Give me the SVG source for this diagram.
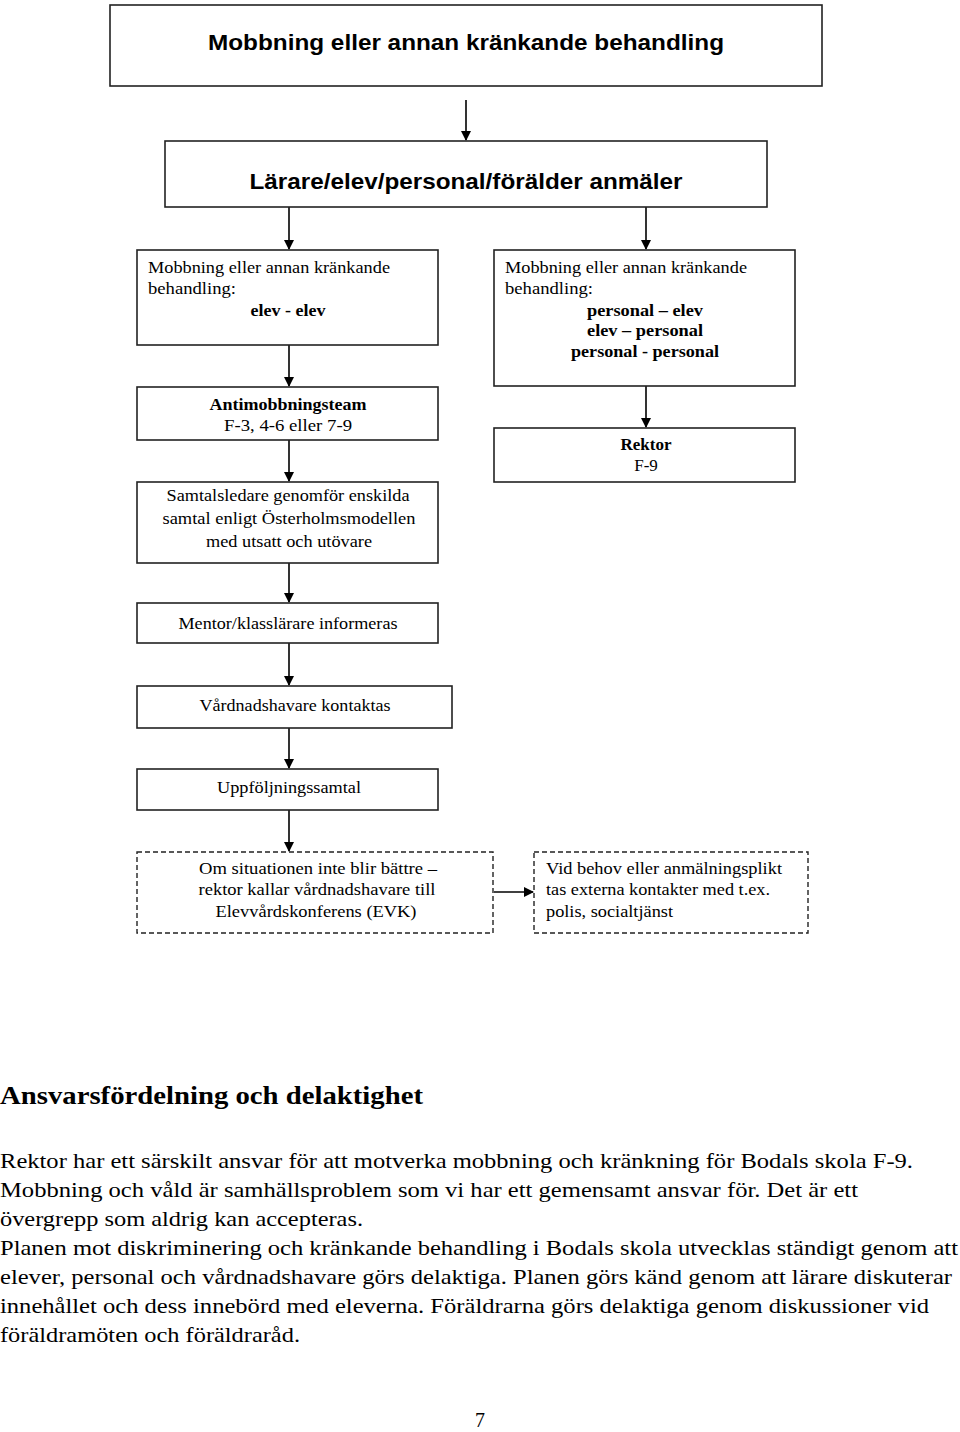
<svg xmlns="http://www.w3.org/2000/svg" width="960" height="1432" viewBox="0 0 960 1432">
<style>
.b{fill:#fff;stroke:#222;stroke-width:1.6}
.d{fill:#fff;stroke:#222;stroke-width:1.4;stroke-dasharray:5,3}
.h{font-family:"Liberation Sans",Arial,sans-serif;font-weight:bold;font-size:22px;fill:#000;text-anchor:middle}
.t{font-family:"Liberation Serif","Times New Roman",serif;font-size:17px;fill:#000}
.c{text-anchor:middle}
.bo{font-weight:bold}
.p{font-family:"Liberation Serif","Times New Roman",serif;font-size:22px;fill:#000}
.ln{stroke:#000;stroke-width:1.6;fill:none}
</style>
<defs>
<marker id="ah" markerWidth="10" markerHeight="10" refX="9" refY="5" orient="auto" markerUnits="userSpaceOnUse">
<path d="M0,0 L10,5 L0,10 z" fill="#000"/>
</marker>
</defs>
<g id="connectors">
<line class="ln" x1="466" y1="100" x2="466" y2="140" marker-end="url(#ah)"/>
<line class="ln" x1="289" y1="207" x2="289" y2="249" marker-end="url(#ah)"/>
<line class="ln" x1="646" y1="207" x2="646" y2="249" marker-end="url(#ah)"/>
<line class="ln" x1="289" y1="345" x2="289" y2="386" marker-end="url(#ah)"/>
<line class="ln" x1="646" y1="386" x2="646" y2="427" marker-end="url(#ah)"/>
<line class="ln" x1="289" y1="440" x2="289" y2="481" marker-end="url(#ah)"/>
<line class="ln" x1="289" y1="563" x2="289" y2="602" marker-end="url(#ah)"/>
<line class="ln" x1="289" y1="643" x2="289" y2="685" marker-end="url(#ah)"/>
<line class="ln" x1="289" y1="728" x2="289" y2="768" marker-end="url(#ah)"/>
<line class="ln" x1="289" y1="810" x2="289" y2="851" marker-end="url(#ah)"/>
<line class="ln" x1="494" y1="892" x2="533" y2="892" marker-end="url(#ah)"/>
</g>
<g id="n1"><rect class="b" x="110" y="5" width="712" height="81"/><text class="h" x="466" y="50" textLength="516" lengthAdjust="spacingAndGlyphs">Mobbning eller annan kränkande behandling</text></g>
<g id="n2"><rect class="b" x="165" y="141" width="602" height="66"/><text class="h" x="466" y="189" textLength="433" lengthAdjust="spacingAndGlyphs">Lärare/elev/personal/förälder anmäler</text></g>
<g id="n3"><rect class="b" x="137" y="250" width="301" height="95"/>
<text class="t" x="148" y="273" textLength="242" lengthAdjust="spacingAndGlyphs">Mobbning eller annan kränkande</text>
<text class="t" x="148" y="294" textLength="88" lengthAdjust="spacingAndGlyphs">behandling:</text>
<text class="t c bo" x="288" y="316" textLength="75" lengthAdjust="spacingAndGlyphs">elev - elev</text></g>
<g id="n4"><rect class="b" x="494" y="250" width="301" height="136"/>
<text class="t" x="505" y="273" textLength="242" lengthAdjust="spacingAndGlyphs">Mobbning eller annan kränkande</text>
<text class="t" x="505" y="294" textLength="88" lengthAdjust="spacingAndGlyphs">behandling:</text>
<text class="t c bo" x="645" y="316" textLength="116" lengthAdjust="spacingAndGlyphs">personal – elev</text>
<text class="t c bo" x="645" y="336" textLength="116" lengthAdjust="spacingAndGlyphs">elev – personal</text>
<text class="t c bo" x="645" y="357" textLength="148" lengthAdjust="spacingAndGlyphs">personal - personal</text></g>
<g id="n5"><rect class="b" x="137" y="387" width="301" height="53"/>
<text class="t c bo" x="288" y="410" textLength="157" lengthAdjust="spacingAndGlyphs">Antimobbningsteam</text>
<text class="t c" x="288" y="431" textLength="128" lengthAdjust="spacingAndGlyphs">F-3, 4-6 eller 7-9</text></g>
<g id="n6"><rect class="b" x="494" y="428" width="301" height="54"/>
<text class="t c bo" x="646" y="450">Rektor</text>
<text class="t c" x="646" y="471">F-9</text></g>
<g id="n7"><rect class="b" x="137" y="482" width="301" height="81"/>
<text class="t c" x="288" y="501" textLength="243" lengthAdjust="spacingAndGlyphs">Samtalsledare genomför enskilda</text>
<text class="t c" x="289" y="524" textLength="253" lengthAdjust="spacingAndGlyphs">samtal enligt Österholmsmodellen</text>
<text class="t c" x="289" y="547" textLength="166" lengthAdjust="spacingAndGlyphs">med utsatt och utövare</text></g>
<g id="n8"><rect class="b" x="137" y="603" width="301" height="40"/>
<text class="t c" x="288" y="629" textLength="219" lengthAdjust="spacingAndGlyphs">Mentor/klasslärare informeras</text></g>
<g id="n9"><rect class="b" x="137" y="686" width="315" height="42"/>
<text class="t c" x="295" y="711" textLength="191" lengthAdjust="spacingAndGlyphs">Vårdnadshavare kontaktas</text></g>
<g id="n10"><rect class="b" x="137" y="769" width="301" height="41"/>
<text class="t c" x="289" y="793" textLength="144" lengthAdjust="spacingAndGlyphs">Uppföljningssamtal</text></g>
<g id="n11"><rect class="d" x="137" y="852" width="356" height="81"/>
<text class="t c" x="318" y="874" textLength="238" lengthAdjust="spacingAndGlyphs">Om situationen inte blir bättre –</text>
<text class="t c" x="317" y="895" textLength="237" lengthAdjust="spacingAndGlyphs">rektor kallar vårdnadshavare till</text>
<text class="t c" x="316" y="917" textLength="201" lengthAdjust="spacingAndGlyphs">Elevvårdskonferens (EVK)</text></g>
<g id="n12"><rect class="d" x="534" y="852" width="274" height="81"/>
<text class="t" x="546" y="874" textLength="236" lengthAdjust="spacingAndGlyphs">Vid behov eller anmälningsplikt</text>
<text class="t" x="546" y="895" textLength="224" lengthAdjust="spacingAndGlyphs">tas externa kontakter med t.ex.</text>
<text class="t" x="546" y="917" textLength="127" lengthAdjust="spacingAndGlyphs">polis, socialtjänst</text></g>
<text x="0" y="1104" font-family="Liberation Serif, serif" font-weight="bold" font-size="26" textLength="423" lengthAdjust="spacingAndGlyphs">Ansvarsfördelning och delaktighet</text>
<text class="p" x="0" y="1168" textLength="913" lengthAdjust="spacingAndGlyphs">Rektor har ett särskilt ansvar för att motverka mobbning och kränkning för Bodals skola F-9.</text>
<text class="p" x="0" y="1197" textLength="858" lengthAdjust="spacingAndGlyphs">Mobbning och våld är samhällsproblem som vi har ett gemensamt ansvar för. Det är ett</text>
<text class="p" x="0" y="1226" textLength="363" lengthAdjust="spacingAndGlyphs">övergrepp som aldrig kan accepteras.</text>
<text class="p" x="0" y="1255" textLength="958" lengthAdjust="spacingAndGlyphs">Planen mot diskriminering och kränkande behandling i Bodals skola utvecklas ständigt genom att</text>
<text class="p" x="0" y="1284" textLength="952" lengthAdjust="spacingAndGlyphs">elever, personal och vårdnadshavare görs delaktiga. Planen görs känd genom att lärare diskuterar</text>
<text class="p" x="0" y="1313" textLength="929" lengthAdjust="spacingAndGlyphs">innehållet och dess innebörd med eleverna. Föräldrarna görs delaktiga genom diskussioner vid</text>
<text class="p" x="0" y="1342" textLength="300" lengthAdjust="spacingAndGlyphs">föräldramöten och föräldraråd.</text>
<text x="480" y="1427" font-family="Liberation Serif, serif" font-size="20" text-anchor="middle">7</text>
</svg>
